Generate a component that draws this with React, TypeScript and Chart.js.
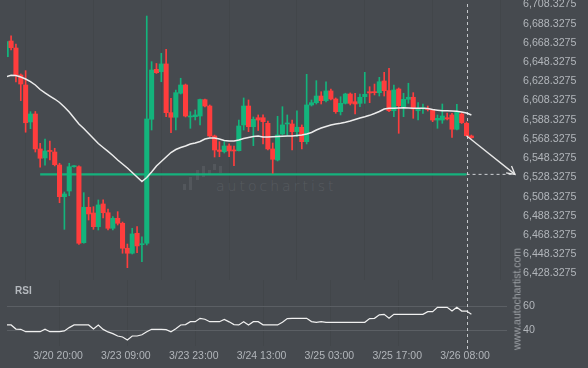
import React, { useEffect, useRef } from 'react';
import { Chart, registerables } from 'chart.js';
Chart.register(...registerables);

const FONT = "'Liberation Sans', Arial, sans-serif";
const BG = '#464a4f';
const UP = '#13b47c';
const DOWN = '#ff3d3d';
const TEXT = '#b1b5ba';

const opens = [
  6650.9, 6667.2, 6659.9, 6631.8, 6621.4, 6582.9, 6591.2, 6554.8, 6545.4, 6553.2,
  6551.6, 6538.1, 6505.1, 6511.0, 6536.3, 6536.3, 6457.2, 6494.1, 6488.1, 6473.9,
  6497.5, 6488.4, 6472.2, 6482.6, 6477.4, 6451.4, 6446.2, 6467.0, 6455.1, 6456.6,
  6585.7, 6637.7, 6635.2, 6643.3, 6592.6, 6587.8, 6612.8, 6621.4, 6588.1, 6588.4,
  6589.1, 6606.1, 6599.5, 6568.3, 6553.7, 6551.9, 6557.9, 6553.7, 6553.0, 6579.8,
  6599.5, 6578.0, 6587.3, 6587.3, 6581.5, 6554.8, 6543.3, 6570.4, 6580.8, 6580.8,
  6572.8, 6577.4, 6562.4, 6600.6, 6603.0, 6609.9, 6605.1, 6615.2, 6606.8, 6593.6,
  6602.3, 6612.0, 6604.0, 6602.3, 6609.2, 6614.4, 6614.4, 6613.4, 6625.6, 6615.5,
  6594.6, 6617.2, 6598.8, 6606.5, 6608.6, 6594.6, 6596.7, 6596.9, 6595.4, 6584.9,
  6584.9, 6587.3, 6590.2, 6575.3, 6591.2, 6581.5, 6568.3,
];
const highs = [
  6667.2, 6672.7, 6664.1, 6632.9, 6636.3, 6593.6, 6593.8, 6560.7, 6565.2, 6563.1,
  6555.5, 6539.9, 6510.0, 6539.9, 6537.6, 6537.1, 6509.3, 6504.5, 6494.7, 6501.7,
  6501.7, 6492.3, 6484.3, 6489.5, 6478.7, 6455.8, 6472.2, 6473.9, 6463.4, 6693.2,
  6645.7, 6643.8, 6654.4, 6658.6, 6607.5, 6616.2, 6628.4, 6622.4, 6593.6, 6595.4,
  6606.8, 6606.8, 6600.6, 6569.3, 6562.4, 6562.4, 6560.0, 6557.9, 6584.9, 6607.9,
  6605.8, 6588.1, 6590.2, 6590.2, 6583.9, 6561.0, 6588.8, 6598.8, 6590.2, 6584.9,
  6594.6, 6579.8, 6632.5, 6605.8, 6625.9, 6614.4, 6624.8, 6617.2, 6607.9, 6609.2,
  6612.8, 6613.1, 6612.8, 6612.0, 6634.6, 6619.6, 6622.4, 6629.4, 6634.6, 6638.8,
  6621.4, 6618.3, 6612.8, 6623.2, 6613.4, 6603.0, 6601.6, 6599.5, 6596.1, 6590.2,
  6601.6, 6592.2, 6591.9, 6601.3, 6592.6, 6582.9, 6569.3,
];
const lows = [
  6650.0, 6657.8, 6624.5, 6605.1, 6572.2, 6575.9, 6551.6, 6535.7, 6537.8, 6543.3,
  6537.1, 6498.8, 6471.1, 6506.1, 6535.7, 6455.5, 6456.6, 6480.8, 6471.1, 6470.4,
  6482.9, 6470.4, 6470.4, 6475.6, 6446.2, 6431.2, 6445.4, 6446.8, 6437.4, 6454.8,
  6574.5, 6633.4, 6624.8, 6588.4, 6571.7, 6574.5, 6612.0, 6588.1, 6576.3, 6585.0,
  6579.8, 6598.5, 6567.3, 6546.4, 6546.7, 6550.6, 6546.7, 6537.4, 6552.7, 6574.5,
  6572.8, 6558.2, 6574.0, 6560.0, 6553.7, 6529.5, 6542.3, 6569.3, 6569.3, 6553.7,
  6567.6, 6554.8, 6560.0, 6599.5, 6601.6, 6601.6, 6603.7, 6605.8, 6591.9, 6590.2,
  6601.6, 6600.6, 6591.2, 6598.8, 6602.3, 6603.0, 6611.0, 6609.9, 6609.9, 6593.6,
  6588.4, 6571.1, 6588.4, 6602.3, 6586.7, 6584.9, 6591.9, 6594.3, 6583.2, 6576.3,
  6581.5, 6584.9, 6566.9, 6574.5, 6581.3, 6568.3, 6565.9,
];
const closes = [
  6666.5, 6660.2, 6631.8, 6622.4, 6582.1, 6591.2, 6554.8, 6545.1, 6552.7, 6552.2,
  6538.4, 6505.1, 6507.9, 6536.3, 6537.1, 6456.6, 6494.1, 6487.1, 6473.9, 6496.5,
  6488.4, 6472.2, 6482.6, 6477.4, 6451.4, 6446.2, 6466.3, 6453.8, 6455.8, 6586.0,
  6637.0, 6634.2, 6643.3, 6592.6, 6587.8, 6613.4, 6621.4, 6589.1, 6588.6, 6590.2,
  6606.3, 6599.5, 6568.3, 6553.7, 6552.2, 6557.9, 6552.7, 6552.7, 6578.7, 6599.5,
  6578.0, 6585.7, 6584.9, 6583.2, 6554.8, 6544.0, 6569.3, 6579.8, 6581.5, 6572.8,
  6577.4, 6562.4, 6600.6, 6603.0, 6609.9, 6605.1, 6615.2, 6606.8, 6593.6, 6602.3,
  6612.0, 6602.3, 6601.6, 6608.6, 6611.7, 6613.1, 6613.4, 6624.8, 6615.5, 6594.6,
  6616.2, 6599.8, 6606.5, 6608.6, 6596.4, 6596.1, 6597.4, 6595.9, 6584.9, 6586.7,
  6589.1, 6586.0, 6575.3, 6593.0, 6582.1, 6568.6, 6566.5,
];
const maValues = [
  6630.0, 6631.5, 6631.3, 6629.7, 6627.6, 6625.0, 6621.4, 6616.7, 6613.1, 6609.9,
  6606.8, 6603.2, 6598.5, 6593.3, 6587.0, 6580.8, 6576.1, 6570.9, 6565.7, 6560.5,
  6556.3, 6552.2, 6548.0, 6543.3, 6539.1, 6535.0, 6530.3, 6525.6, 6520.9, 6525.1,
  6530.8, 6537.1, 6541.7, 6546.4, 6551.1, 6554.2, 6556.3, 6557.9, 6560.0, 6561.0,
  6562.6, 6565.2, 6566.2, 6566.2, 6565.2, 6563.6, 6563.1, 6563.1, 6564.1, 6565.7,
  6566.7, 6567.8, 6568.3, 6567.3, 6567.3, 6567.6, 6567.8, 6568.0, 6568.3, 6568.3,
  6568.8, 6569.3, 6570.4, 6571.9, 6574.5, 6576.6, 6578.2, 6579.8, 6580.8, 6581.5,
  6582.6, 6583.9, 6585.5, 6587.0, 6588.3, 6589.8, 6591.7, 6593.8, 6596.4, 6597.1,
  6597.1, 6597.4, 6597.8, 6597.4, 6597.1, 6597.1, 6597.1, 6596.8, 6595.9, 6595.2,
  6594.6, 6594.5, 6594.3, 6594.0, 6593.3, 6592.2, 6590.2,
];
const rsiValues = [
  44.2, 44.2, 40.8, 40.6, 38.6, 38.6, 38.6, 38.6, 40.6, 38.6,
  38.6, 38.6, 39.2, 42.0, 44.2, 44.2, 44.2, 44.2, 40.8, 44.2,
  40.5, 38.4, 37.0, 35.0, 34.2, 31.7, 35.0, 35.0, 36.0, 38.5,
  40.6, 40.6, 40.6, 40.3, 38.5, 41.0, 44.2, 44.5, 46.9, 46.9,
  49.7, 49.0, 46.9, 46.9, 46.9, 48.8, 46.8, 44.5, 44.2, 46.9,
  44.2, 46.9, 46.9, 44.3, 44.2, 44.2, 44.2, 46.5, 49.5, 49.7,
  49.7, 49.7, 49.7, 47.0, 46.4, 46.9, 46.4, 46.4, 46.4, 46.4,
  46.4, 46.4, 46.4, 46.4, 46.4, 49.5, 49.7, 52.6, 53.1, 49.8,
  53.1, 53.1, 53.1, 53.1, 53.1, 53.1, 53.1, 55.3, 55.3, 58.9,
  58.9, 58.9, 55.8, 58.9, 55.8, 55.8, 53.1,
];
const priceTicks = [
  6708.3275, 6688.3275, 6668.3275, 6648.3275, 6628.3275, 6608.3275, 6588.3275, 6568.3275,
  6548.3275, 6528.3275, 6508.3275, 6488.3275, 6468.3275, 6448.3275, 6428.3275,
];
const rsiTicks = [40, 60];
const xTickIndex = [11, 25, 39, 53, 67, 81, 95];
const xTickLabels = ['3/20 20:00', '3/23 09:00', '3/23 23:00', '3/24 13:00', '3/25 03:00', '3/25 17:00', '3/26 08:00'];
const levelPrice = 6528.3275;
const levelStart = 7;
const patternEnd = 95;
const forecastEnd = 105;
const forecastPrice = 6528.3275;

const X_MIN = 0.155;
const X_MAX = 105.62;
const Y_MIN = 6418.344;
const Y_MAX = 6709.889;
const RSI_MIN = 26.667;
const RSI_MAX = 81.667;

const fmt = (v: number) => Number(v).toLocaleString('en-US', { minimumFractionDigits: 4, maximumFractionDigits: 4 });

export default function App() {
  const mainRef = useRef<HTMLCanvasElement>(null);
  const rsiRef = useRef<HTMLCanvasElement>(null);

  useEffect(() => {
    document.body.style.margin = '0';
    document.body.style.background = BG;
    const idx = opens.map((_, i) => i);
    const colors = idx.map((i) => (closes[i] >= opens[i] ? UP : DOWN));

    const xBase: any = {
      type: 'linear',
      min: X_MIN,
      max: X_MAX,
      offset: false,
      grid: { color: 'rgba(0,0,0,0.05)', drawTicks: false },
      border: { display: false },
      afterBuildTicks: (s: any) => { s.ticks = xTickIndex.map((v) => ({ value: v })); },
    };

    const mainOverlay = {
      id: 'mainOverlay',
      beforeDatasetsDraw(chart: any) {
        const { ctx, chartArea, scales } = chart;
        const px = Math.round(scales.x.getPixelForValue(patternEnd)) + 0.5;
        ctx.save();
        ctx.strokeStyle = '#c4c7cb';
        ctx.lineWidth = 1;
        ctx.setLineDash([3, 3]);
        ctx.beginPath();
        ctx.moveTo(px, chartArea.top + 4);
        ctx.lineTo(px, chartArea.bottom);
        ctx.stroke();
        ctx.restore();
      },
      afterDatasetsDraw(chart: any) {
        const { ctx, scales } = chart;
        const x1 = scales.x.getPixelForValue(patternEnd);
        const y1 = scales.y.getPixelForValue(closes[patternEnd]);
        const x2 = scales.x.getPixelForValue(forecastEnd);
        const y2 = scales.y.getPixelForValue(forecastPrice);
        const ang = Math.atan2(y2 - y1, x2 - x1);
        const L = 9;
        ctx.save();
        ctx.strokeStyle = '#e8e8e8';
        ctx.lineWidth = 1.3;
        ctx.beginPath();
        ctx.moveTo(x2 - L * Math.cos(ang - 0.5), y2 - L * Math.sin(ang - 0.5));
        ctx.lineTo(x2, y2);
        ctx.lineTo(x2 - L * Math.cos(ang + 0.5), y2 - L * Math.sin(ang + 0.5));
        ctx.stroke();
        ctx.restore();
      },
    };

    const main = new Chart(mainRef.current as HTMLCanvasElement, {
      type: 'bar',
      data: {
        datasets: [
          {
            type: 'line', label: 'ma',
            data: maValues.map((v, i) => ({ x: i, y: v })),
            borderColor: '#ececec', borderWidth: 1.5, pointRadius: 0, order: 0, clip: 0,
          },
          {
            type: 'line', label: 'arrow',
            data: [{ x: patternEnd, y: closes[patternEnd] }, { x: forecastEnd, y: forecastPrice }],
            borderColor: '#e8e8e8', borderWidth: 1.3, pointRadius: 0, order: 0,
          },
          {
            type: 'bar', label: 'bodies',
            data: idx.map((i) => ({ x: i, y: [opens[i], closes[i]] })),
            backgroundColor: colors, barThickness: 4.4, minBarLength: 1, grouped: false, order: 1, clip: 0,
          },
          {
            type: 'bar', label: 'wicks',
            data: idx.map((i) => ({ x: i, y: [lows[i], highs[i]] })),
            backgroundColor: colors, barThickness: 1, grouped: false, order: 2, clip: 0,
          },
          {
            type: 'line', label: 'level',
            data: [{ x: levelStart, y: levelPrice }, { x: patternEnd, y: levelPrice }],
            borderColor: '#15b27d', borderWidth: 2.2, pointRadius: 0, order: 3,
          },
          {
            type: 'line', label: 'levelExt',
            data: [{ x: patternEnd, y: levelPrice }, { x: forecastEnd, y: levelPrice }],
            borderColor: '#cdd0d4', borderWidth: 1, borderDash: [3, 3], pointRadius: 0, order: 3,
          },
        ] as any,
      },
      options: {
        animation: false,
        responsive: false,
        events: [],
        layout: { padding: { left: 7, right: 0, top: 0, bottom: 0 } },
        plugins: { legend: { display: false }, tooltip: { enabled: false } },
        scales: {
          x: {
            ...xBase,
            ticks: { display: false },
            afterFit: (s: any) => { s.height = 0; s.paddingLeft = 0; s.paddingRight = 0; },
          },
          y: {
            type: 'linear',
            position: 'right',
            min: Y_MIN,
            max: Y_MAX,
            grid: { display: false, drawTicks: false },
            border: { display: false },
            ticks: {
              color: TEXT,
              font: { family: FONT, size: 10.7 },
              padding: 5,
              labelOffset: 3,
              autoSkip: false,
              callback: (v: any) => fmt(v),
            },
            afterBuildTicks: (s: any) => { s.ticks = priceTicks.map((v) => ({ value: v })); },
            afterFit: (s: any) => { s.width = 70; s.paddingTop = 0; s.paddingBottom = 0; },
          },
        } as any,
      },
      plugins: [mainOverlay],
    } as any);

    const rsiOverlay = {
      id: 'rsiOverlay',
      beforeDatasetsDraw(chart: any) {
        const { ctx, chartArea, scales } = chart;
        ctx.save();
        ctx.strokeStyle = '#5b5f64';
        ctx.lineWidth = 1;
        rsiTicks.forEach((t) => {
          const py = Math.round(scales.y.getPixelForValue(t)) + 0.5;
          ctx.beginPath();
          ctx.moveTo(chartArea.left, py);
          ctx.lineTo(507, py);
          ctx.stroke();
        });
        const px = Math.round(scales.x.getPixelForValue(patternEnd)) + 0.5;
        ctx.strokeStyle = '#c4c7cb';
        ctx.setLineDash([3, 3]);
        ctx.beginPath();
        ctx.moveTo(px, 0);
        ctx.lineTo(px, chartArea.bottom + 4);
        ctx.stroke();
        ctx.restore();
      },
    };

    const rsi = new Chart(rsiRef.current as HTMLCanvasElement, {
      type: 'line',
      data: {
        datasets: [
          {
            label: 'RSI',
            data: rsiValues.map((v, i) => ({ x: i, y: v })),
            borderColor: '#f0f0f0', borderWidth: 1.2, pointRadius: 0, clip: 0,
          },
        ],
      },
      options: {
        animation: false,
        responsive: false,
        events: [],
        layout: { padding: { left: 7, right: 0, top: 0, bottom: 0 } },
        plugins: { legend: { display: false }, tooltip: { enabled: false } },
        scales: {
          x: {
            ...xBase,
            ticks: {
              color: TEXT,
              font: { family: FONT, size: 10.5 },
              padding: 4,
              labelOffset: -1.5,
              maxRotation: 0,
              autoSkip: false,
              callback: (_v: any, i: number) => xTickLabels[i],
            },
            afterFit: (s: any) => { s.height = 22; s.paddingLeft = 0; s.paddingRight = 0; },
          },
          y: {
            type: 'linear',
            position: 'right',
            min: RSI_MIN,
            max: RSI_MAX,
            grid: { display: false, drawTicks: false },
            border: { display: false },
            ticks: {
              color: TEXT,
              font: { family: FONT, size: 10.7 },
              padding: 5,
              autoSkip: false,
              callback: (v: any) => String(v),
            },
            afterBuildTicks: (s: any) => { s.ticks = rsiTicks.map((v) => ({ value: v })); },
            afterFit: (s: any) => { s.width = 70; s.paddingTop = 0; s.paddingBottom = 0; },
          },
        } as any,
      },
      plugins: [rsiOverlay],
    } as any);

    return () => {
      main.destroy();
      rsi.destroy();
    };
  }, []);

  const logoBars = [
    [183, 184, 3, 6], [189, 177, 3, 13], [196, 170, 3, 10], [202, 166, 3, 11],
    [208, 170, 3, 5], [213, 164, 3, 6], [219, 166, 3, 7],
  ];

  return (
    <div style={{ position: 'relative', width: 588, height: 368, background: BG, overflow: 'hidden' }}>
      {logoBars.map((b, k) => (
        <div key={k} style={{ position: 'absolute', left: b[0], top: b[1], width: b[2], height: b[3], background: '#53575c' }} />
      ))}
      <div style={{
        position: 'absolute', left: 216, top: 179, fontFamily: "'DejaVu Sans', sans-serif", fontSize: 14,
        lineHeight: '14px', letterSpacing: '3px', color: '#575b60', whiteSpace: 'nowrap', fontWeight: 300,
      }}>autochartist</div>
      <canvas ref={mainRef} width={588} height={280} style={{ position: 'absolute', left: 0, top: 0, width: 588, height: 280 }} />
      <canvas ref={rsiRef} width={588} height={88} style={{ position: 'absolute', left: 0, top: 280, width: 588, height: 88 }} />
      <div style={{
        position: 'absolute', left: 15, top: 285, fontFamily: FONT, fontSize: 10, fontWeight: 'bold',
        lineHeight: '12px', color: '#b5b9be',
      }}>RSI</div>
      <div style={{
        position: 'absolute', left: 516.5, top: 298.5, transform: 'translate(-50%, -50%) rotate(-90deg)',
        fontFamily: FONT, fontSize: 10.5, lineHeight: '11px', color: '#9ea2a7', whiteSpace: 'nowrap',
      }}>www.autochartist.com</div>
    </div>
  );
}
